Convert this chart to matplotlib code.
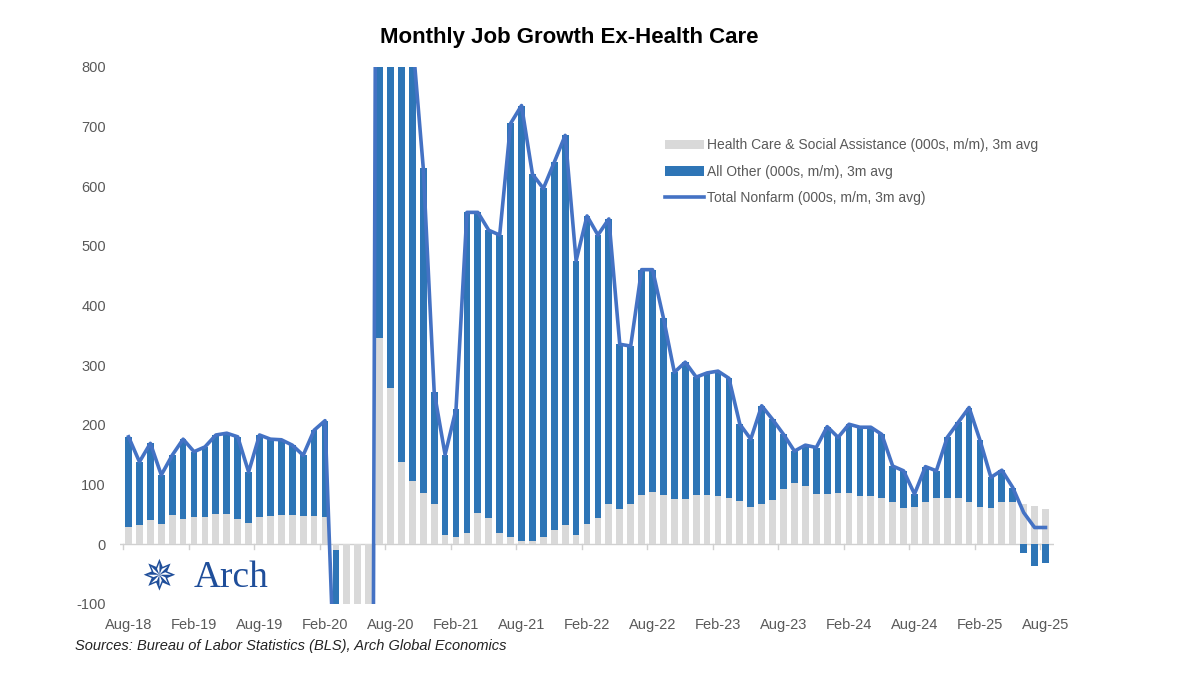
import numpy as np
import pandas as pd
import matplotlib
matplotlib.use("Agg")
import matplotlib.pyplot as plt

plt.rcParams['font.family'] = ['Liberation Sans', 'DejaVu Sans']

months = pd.date_range("2018-08-01", "2025-08-01", freq="MS")

# total nonfarm, 3m avg (000s)
total = [180, 138, 169, 116, 149, 176, 155, 163, 183, 186, 180, 121, 183, 176, 175, 166, 149, 191, 207,
         -300, -7000, -4500, -2500,
         3000, 1400, 1100, 850, 630, 255, 150, 226, 556, 556, 526, 518, 705, 735, 620, 596, 640, 685,
         475, 550, 518, 545, 335, 332, 460, 460, 379, 288, 305, 280, 287, 290,
         278, 201, 176, 232, 209, 184, 156, 166, 162, 197, 179, 201, 196, 196, 184, 131, 123, 84, 130, 123,
         179, 204, 229, 174, 112, 124, 95, 53, 28, 28]
# health care & social assistance, 3m avg (000s)
health = [29, 32, 40, 34, 49, 43, 46, 45, 51, 50, 43, 36, 46, 47, 49, 49, 47, 47, 45,
          -10, -500, -400, -300,
          345, 262, 138, 106, 85, 68, 15, 12, 18, 53, 44, 18, 12, 6, 6, 12, 24, 32,
          15, 34, 44, 68, 59, 68, 82, 88, 82, 76, 76, 82, 82, 81,
          77, 73, 63, 67, 74, 92, 102, 98, 84, 84, 85, 85, 81, 81, 77, 70, 61, 63, 70,
          78, 78, 78, 70, 63, 61, 70, 70, 67, 64, 59]

tick_labels = ["Aug-18", "Feb-19", "Aug-19", "Feb-20", "Aug-20", "Feb-21", "Aug-21", "Feb-22",
               "Aug-22", "Feb-23", "Aug-23", "Feb-24", "Aug-24", "Feb-25", "Aug-25"]

total = np.array(total, dtype=float)
health = np.array(health, dtype=float)
other = total - health
x = np.arange(len(months))

# stack: positive parts on positive, negative on negative
other_bottom = np.where(other >= 0, np.maximum(health, 0), np.minimum(health, 0))

blue = "#2E75B6"
line_c = "#4472C4"
grey = "#D9D9D9"

fig = plt.figure(figsize=(11.98, 6.74), dpi=100)
ax = fig.add_axes([0.10, 0.104, 0.78, 0.797])

b1 = ax.bar(x, health, width=0.62, color=grey, label="Health Care & Social Assistance (000s, m/m), 3m avg")
b2 = ax.bar(x, other, bottom=other_bottom, width=0.62, color=blue, label="All Other (000s, m/m), 3m avg")
l1, = ax.plot(x, total, color=line_c, lw=2.6, label="Total Nonfarm (000s, m/m, 3m avg)")

ax.set_ylim(-100, 800)
ax.set_xlim(-0.8, len(x) - 0.2)
ax.axhline(0, color="#D0D0D0", lw=1, zorder=0)
tick_pos = np.arange(0, len(x), 6)
for t in tick_pos:
    ax.plot([t - 0.5, t - 0.5], [0, -8], color="#D0D0D0", lw=1, zorder=0)
ax.set_xticks(tick_pos)
ax.set_xticklabels(tick_labels)
yt = list(range(-100, 801, 100))
ax.set_yticks(yt)
ax.set_yticklabels([str(v) for v in yt])
ax.tick_params(length=0, labelsize=10.5, colors="#595959", pad=10)
for s in ax.spines.values():
    s.set_visible(False)

ax.legend(handles=[b1, b2, l1], loc="upper left", bbox_to_anchor=(0.57, 0.89), frameon=False,
          fontsize=10, labelcolor="#595959", handlelength=2.8, labelspacing=0.9, handletextpad=0.2)

fig.text(0.475, 0.945, "Monthly Job Growth Ex-Health Care", ha="center", va="center",
         fontsize=16, fontweight="bold")
fig.text(0.063, 0.035, "Sources: Bureau of Labor Statistics (BLS), Arch Global Economics",
         fontsize=10.5, style="italic", color="#222222")
fig.text(0.118, 0.143, "\u2735", fontsize=30, color="#1F4E9A", va="center", ha="left",
         family="DejaVu Sans")
fig.text(0.162, 0.143, "Arch", fontsize=27, color="#1F4E9A", va="center", ha="left",
         family="Liberation Serif")

fig.savefig("out.png", dpi=100)
